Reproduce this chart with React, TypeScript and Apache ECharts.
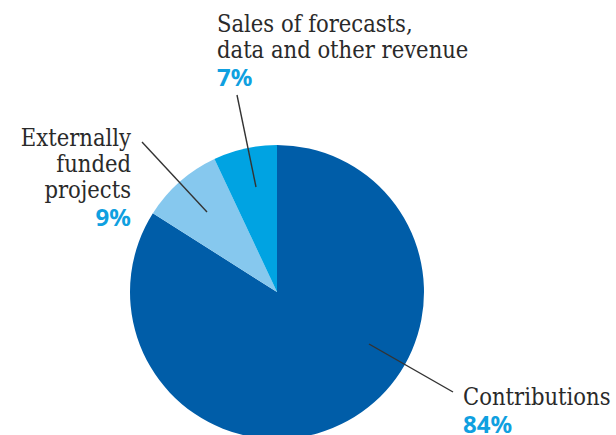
import React, { useEffect, useRef } from "react";
import * as echarts from "echarts";

const categories = ["Contributions", "Externally\nfunded\nprojects", "Sales of forecasts,\ndata and other revenue"];
const shares = [84, 9, 7];
const sliceColors = ["#005da8", "#86c8ee", "#00a3e2"];

// annotation placement: label anchor and leader line per slice
const labelAnchors = [
  { x: 463, y: 384, align: "left", line: [[369, 344], [453, 392]] },
  { x: 131, y: 125, align: "right", line: [[207, 212], [142, 142]] },
  { x: 217, y: 11, align: "left", line: [[256, 187], [237, 95]] },
];

export default function App() {
  const ref = useRef<HTMLDivElement>(null);
  useEffect(() => {
    const chart = echarts.init(ref.current!, null, { renderer: "svg" });
    const serif = "'DejaVu Serif Condensed', 'DejaVu Serif', serif";
    const sans = "'Noto Sans', sans-serif";
    const base = {
      type: "pie",
      center: [277, 292],
      radius: 147,
      startAngle: 90,
      clockwise: true,
      avoidLabelOverlap: false,
      silent: true,
      emphasis: { disabled: true },
    };
    const colored = categories.map((name, i) => ({
      name,
      value: shares[i],
      itemStyle: { color: sliceColors[i] },
    }));
    const labelled = categories.map((name, i) => ({
      name,
      value: shares[i],
      itemStyle: { color: "rgba(0,0,0,0)" },
      label: {
        align: labelAnchors[i].align,
        rich: {
          n: { fontFamily: serif, fontSize: 23.5, color: "#2a2a2a", lineHeight: 26, align: labelAnchors[i].align },
          p: { fontFamily: sans, fontSize: 24, fontWeight: "bold", color: "#0fa0e0", lineHeight: 26, align: labelAnchors[i].align },
        },
      },
    }));
    chart.setOption({
      animation: false,
      series: [
        { ...base, z: 2, data: colored, label: { show: false }, labelLine: { show: false } },
        {
          ...base,
          z: 5,
          data: labelled,
          label: {
            show: true,
            formatter: (p: any) => `{n|${p.name}}\n{p|${p.value}%}`,
          },
          labelLine: { show: true, showAbove: true, lineStyle: { color: "#333333", width: 1.4 } },
          labelLayout: (params: any) => {
            const a = labelAnchors[params.dataIndex];
            return {
              x: a.x,
              y: a.y,
              align: a.align,
              verticalAlign: "top",
              labelLinePoints: [a.line[0], a.line[1], a.line[1]],
            };
          },
        },
      ],
    });
    return () => chart.dispose();
  }, []);
  return (
    <div
      ref={ref}
      style={{ position: "fixed", left: 0, top: 0, width: 616, height: 435, background: "#fff" }}
    />
  );
}
